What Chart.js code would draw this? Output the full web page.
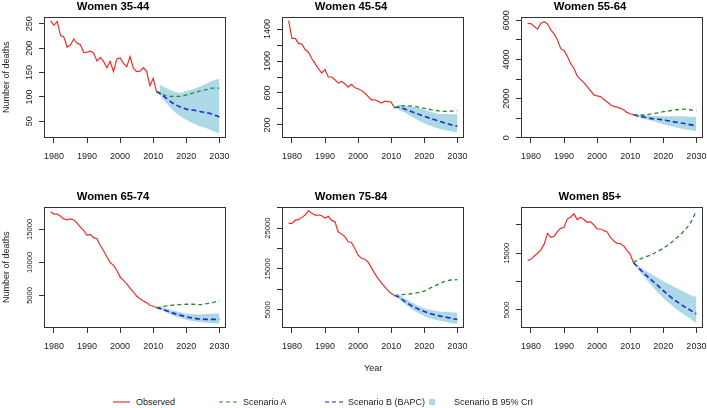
<!DOCTYPE html>
<html>
<head>
<meta charset="utf-8">
<script src="https://cdn.jsdelivr.net/npm/chart.js@4.4.0/dist/chart.umd.min.js"></script>
<style>
  html, body { margin: 0; padding: 0; background: #fff; overflow: hidden; }
  body { width: 707px; height: 408px; position: relative; font-family: "Liberation Sans", Arial, sans-serif; color: #222; }
  canvas { position: absolute; }
  .lab { position: absolute; font-size: 9px; line-height: 12px; white-space: nowrap; }
</style>
</head>
<body>
<canvas id="p0" width="270" height="190" style="left:0;top:0"></canvas>
<canvas id="p1" width="270" height="190" style="left:238px;top:0"></canvas>
<canvas id="p2" width="270" height="190" style="left:477px;top:0"></canvas>
<canvas id="p3" width="270" height="190" style="left:0;top:190px"></canvas>
<canvas id="p4" width="270" height="190" style="left:238px;top:190px"></canvas>
<canvas id="p5" width="270" height="190" style="left:477px;top:190px"></canvas>

<span class="lab" style="left:364px;top:362px">Year</span>
<svg width="707" height="12" style="position:absolute;left:0;top:396px">
  <line x1="113" y1="6" x2="130" y2="6" stroke="#e8302a" stroke-width="1.2"/>
  <line x1="219" y1="6" x2="239" y2="6" stroke="#2a8a2a" stroke-width="1.2" stroke-dasharray="4 3"/>
  <line x1="325" y1="6" x2="345" y2="6" stroke="#1a2bd6" stroke-width="1.2" stroke-dasharray="4 3"/>
  <rect x="429" y="3" width="6" height="6" fill="#add8e6"/>
</svg>
<span class="lab" style="left:136px;top:396px">Observed</span>
<span class="lab" style="left:243px;top:396px">Scenario A</span>
<span class="lab" style="left:348px;top:396px">Scenario B (BAPC)</span>
<span class="lab" style="left:454px;top:396px">Scenario B 95% CrI</span>

<script>
// years
const obsYears = [1979, 1980, 1981, 1982, 1983, 1984, 1985, 1986, 1987, 1988, 1989,
  1990, 1991, 1992, 1993, 1994, 1995, 1996, 1997, 1998, 1999,
  2000, 2001, 2002, 2003, 2004, 2005, 2006, 2007, 2008, 2009, 2010, 2011];
const projYears = [2011, 2012, 2014, 2016, 2018, 2020, 2022, 2024, 2026, 2028, 2030];
const bandYears = [2012, 2014, 2016, 2018, 2020, 2022, 2024, 2026, 2028, 2030];
const xTicks = [1980, 1990, 2000, 2010, 2020, 2030];

// Women 35-44
const obs3544 = [256, 247, 255, 226, 223, 202, 207, 219, 210, 207, 191, 192, 194, 190, 174, 181, 173,
  160, 173, 152, 178, 180, 169, 162, 183, 159, 152, 153, 160, 153, 123, 138, 111];
const scenA3544 = [111, 109, 102, 101, 101, 104, 108, 112, 115, 118, 118];
const scenB3544 = [111, 107, 97, 87, 80, 75, 73, 70, 68, 64, 59];
const hi3544 = [125, 118, 112, 108, 112, 116, 121, 127, 133, 138];
const lo3544 = [104, 87, 72, 61, 53, 46, 40, 36, 30, 25];
const yTicks3544 = [50, 100, 150, 200, 250];
const yLabels3544 = [50, 100, 150, 200, 250];

// Women 45-54
const obs4554 = [1505, 1283, 1283, 1220, 1211, 1144, 1110, 1031, 968, 905, 850, 892, 800, 800, 766, 724, 745,
  716, 674, 708, 666, 653, 632, 599, 557, 515, 515, 498, 473, 494, 494, 485, 414];
const scenA4554 = [414, 432, 440, 438, 425, 408, 392, 378, 370, 372, 380];
const scenB4554 = [414, 422, 401, 368, 338, 309, 280, 254, 229, 204, 183];
const hi4554 = [456, 447, 431, 414, 389, 364, 340, 336, 334, 338];
const lo4554 = [401, 359, 309, 263, 221, 187, 158, 137, 120, 103];
const yTicks4554 = [200, 400, 600, 800, 1000, 1200, 1400];
const yLabels4554 = [200, 600, 1000, 1400];

// Women 55-64
const obs5564 = [5847, 5830, 5678, 5544, 5847, 5931, 5813, 5510, 5308, 5004, 4550, 4465, 4162, 3791, 3538, 3151, 2982,
  2814, 2612, 2410, 2190, 2140, 2106, 1971, 1837, 1685, 1601, 1567, 1500, 1432, 1297, 1230, 1180];
const scenA5564 = [1180, 1163, 1163, 1213, 1264, 1331, 1382, 1432, 1466, 1432, 1382];
const scenB5564 = [1180, 1129, 1062, 994, 960, 910, 859, 792, 741, 674, 607];
const hi5564 = [1180, 1163, 1129, 1112, 1095, 1095, 1095, 1095, 1078, 1062];
const lo5564 = [1095, 977, 893, 792, 691, 607, 522, 455, 388, 337];
const yTicks5564 = [0, 1000, 2000, 3000, 4000, 5000, 6000];
const yLabels5564 = [0, 2000, 4000, 6000];

// Women 65-74
const obs6574 = [17687, 17338, 17338, 16990, 16592, 16443, 16592, 16443, 15945, 15348, 14851, 14105, 14254, 13756, 13607, 12612, 11766,
  10871, 9975, 9577, 8781, 7786, 7289, 6741, 6095, 5498, 4901, 4503, 4154, 3906, 3508, 3358, 3160];
const scenA6574 = [3160, 3209, 3408, 3508, 3607, 3657, 3657, 3607, 3756, 3906, 4204];
const scenB6574 = [3160, 3010, 2662, 2314, 2015, 1767, 1567, 1418, 1368, 1368, 1368];
const hi6574 = [3309, 3010, 2712, 2463, 2264, 2164, 2115, 2164, 2214, 2314];
const lo6574 = [2911, 2413, 1966, 1617, 1319, 1120, 970, 871, 771, 722];
const yTicks6574 = [5000, 10000, 15000];
const yLabels6574 = [5000, 10000, 15000];

// Women 75-84
const obs7584 = [26148, 26148, 26967, 27049, 27623, 28197, 29262, 28607, 28197, 28197, 28033, 27459, 27869, 26885, 26557, 24098, 23525,
  22951, 21639, 21475, 20000, 18361, 17623, 17377, 16721, 15328, 13934, 12705, 11639, 10656, 9754, 9016, 8525];
const scenA7584 = [8525, 8607, 8770, 8934, 9180, 9590, 10410, 11147, 11885, 12295, 12377];
const scenB7584 = [8525, 8197, 7131, 6066, 5246, 4590, 4016, 3607, 3279, 2951, 2623];
const hi7584 = [8852, 7869, 6885, 6066, 5410, 5000, 4672, 4508, 4426, 4344];
const lo7584 = [7869, 6557, 5246, 4262, 3443, 2869, 2459, 2131, 1803, 1557];
const yTicks7584 = [5000, 10000, 15000, 20000, 25000, 30000];
const yLabels7584 = [5000, 15000, 25000];

// Women 85+
const obs85 = [13750, 13929, 14524, 15000, 15595, 16607, 18512, 17798, 17976, 18809, 19405, 19583, 21071, 21369, 21964, 20952, 21369,
  20952, 20476, 20595, 20000, 19286, 19286, 18988, 18809, 17798, 17202, 16726, 16726, 16310, 15536, 14821, 13333];
const scenA85 = [13333, 13750, 14226, 14643, 15238, 15893, 16726, 17679, 18809, 20179, 22440];
const scenB85 = [13333, 12738, 11548, 10476, 9464, 8393, 7381, 6488, 5714, 5000, 4286];
const hi85 = [13036, 12143, 11429, 10774, 10060, 9464, 8869, 8274, 7679, 7262];
const lo85 = [12440, 10952, 9643, 8274, 7083, 6071, 5119, 4286, 3512, 2619];
const yTicks85 = [5000, 10000, 15000, 20000];
const yLabels85 = [5000, 15000];

const RED = '#e8302a', GREEN = '#2a8a2a', BLUE = '#1a2bd6', BAND = '#add8e6';

const panels = [
  { id: 'p0', title: 'Women 35-44', obs: obs3544, a: scenA3544, b: scenB3544, hi: hi3544, lo: lo3544, yt: yTicks3544, yl: yLabels3544, min: 15.7, max: 265, size: 9, yTitle: true },
  { id: 'p1', title: 'Women 45-54', obs: obs4554, a: scenA4554, b: scenB4554, hi: hi4554, lo: lo4554, yt: yTicks4554, yl: yLabels4554, min: 37, max: 1556, size: 9 },
  { id: 'p2', title: 'Women 55-64', obs: obs5564, a: scenA5564, b: scenB5564, hi: hi5564, lo: lo5564, yt: yTicks5564, yl: yLabels5564, min: -10, max: 6190, size: 9 },
  { id: 'p3', title: 'Women 65-74', obs: obs6574, a: scenA6574, b: scenB6574, hi: hi6574, lo: lo6574, yt: yTicks6574, yl: yLabels6574, min: 60, max: 18470, size: 7.6, yTitle: true },
  { id: 'p4', title: 'Women 75-84', obs: obs7584, a: scenA7584, b: scenB7584, hi: hi7584, lo: lo7584, yt: yTicks7584, yl: yLabels7584, min: 550, max: 30270, size: 7.6 },
  { id: 'p5', title: 'Women 85+', obs: obs85, a: scenA85, b: scenB85, hi: hi85, lo: lo85, yt: yTicks85, yl: yLabels85, min: 1800, max: 23250, size: 7.6 }
];

Chart.defaults.font.family = '"Liberation Sans", Arial, Helvetica, sans-serif';
Chart.defaults.color = '#222';

// full frame round the plot region, like R's box()
const boxPlugin = {
  id: 'box',
  afterDatasetsDraw(chart) {
    const a = chart.chartArea, ctx = chart.ctx;
    ctx.save();
    ctx.strokeStyle = '#333';
    ctx.lineWidth = 1;
    ctx.strokeRect(Math.round(a.left) + 0.5, Math.round(a.top) + 0.5,
      Math.round(a.right - a.left) - 1, Math.round(a.bottom - a.top) - 1);
    ctx.restore();
  }
};

// y tick labels turned 90 degrees, as R draws them
const yLabelPlugin = {
  id: 'yLabels',
  afterDraw(chart, args, opts) {
    const s = chart.scales.y, ctx = chart.ctx;
    ctx.save();
    ctx.font = opts.size + 'px "Liberation Sans", Arial, sans-serif';
    ctx.fillStyle = '#222';
    ctx.textAlign = 'center';
    ctx.textBaseline = 'middle';
    s.ticks.forEach(t => {
      if (!t.label) return;
      ctx.save();
      ctx.translate(s.right - 14, s.getPixelForValue(t.value));
      ctx.rotate(-Math.PI / 2);
      ctx.fillText(t.label, 0, 0);
      ctx.restore();
    });
    ctx.restore();
  }
};

const pts = (xs, ys) => xs.map((x, i) => ({ x: x, y: ys[i] }));

panels.forEach(p => {
  new Chart(document.getElementById(p.id), {
    type: 'line',
    data: {
      datasets: [
        { label: 'Observed', data: pts(obsYears, p.obs), borderColor: RED, borderWidth: 1.2, pointRadius: 0, fill: false },
        { label: 'Scenario A', data: pts(projYears, p.a), borderColor: GREEN, borderWidth: 1.3, borderDash: [4, 3],
          pointRadius: 0, fill: false, cubicInterpolationMode: 'monotone' },
        { label: 'Scenario B (BAPC)', data: pts(projYears, p.b), borderColor: BLUE, borderWidth: 1.6, borderDash: [5, 3],
          pointRadius: 0, fill: false, cubicInterpolationMode: 'monotone' },
        { label: 'Scenario B 95% CrI', data: pts(bandYears, p.hi), borderWidth: 0, borderColor: 'rgba(0,0,0,0)',
          backgroundColor: BAND, pointRadius: 0, fill: '+1', cubicInterpolationMode: 'monotone' },
        { label: 'lower', data: pts(bandYears, p.lo), borderWidth: 0, borderColor: 'rgba(0,0,0,0)',
          pointRadius: 0, fill: false, cubicInterpolationMode: 'monotone' }
      ]
    },
    options: {
      responsive: false,
      animation: false,
      devicePixelRatio: 1,
      events: [],
      layout: { padding: { left: 0, right: 44, top: 0, bottom: 0 } },
      plugins: {
        legend: { display: false },
        tooltip: { enabled: false },
        title: { display: true, text: p.title, color: '#000', font: { size: 11.3, weight: 'bold' }, padding: { top: 0, bottom: 3 } },
        yLabels: { size: p.size }
      },
      scales: {
        x: {
          type: 'linear', min: 1977, max: 2032,
          afterFit: s => { s.height = 52; },
          afterBuildTicks: s => { s.ticks = xTicks.map(v => ({ value: v })); },
          ticks: { autoSkip: false, maxRotation: 0, padding: 8, font: { size: 9 }, callback: v => String(v) },
          grid: { drawOnChartArea: false, tickLength: 5, color: '#333' },
          border: { display: false }
        },
        y: {
          min: p.min, max: p.max,
          afterFit: s => { s.width = 44; },
          afterBuildTicks: s => { s.ticks = p.yt.map(v => ({ value: v })); },
          ticks: { display: false, callback: v => p.yl.includes(v) ? String(v) : '' },
          grid: { drawOnChartArea: false, tickLength: 5, color: '#333' },
          border: { display: false },
          title: { display: !!p.yTitle, text: 'Number of deaths', color: '#222', font: { size: 9 }, padding: { top: 1, bottom: 0 } }
        }
      }
    },
    plugins: [boxPlugin, yLabelPlugin]
  });
});
</script>
</body>
</html>
